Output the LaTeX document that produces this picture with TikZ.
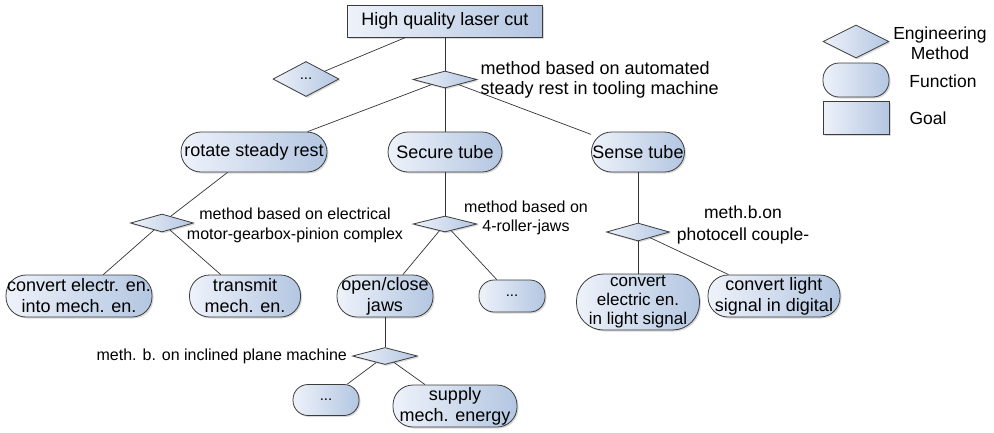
\documentclass[tikz,border=0pt]{standalone}
\usepackage{fontspec}
\setmainfont{Liberation Sans}
\usetikzlibrary{positioning, shapes.geometric, shadows}

\definecolor{shapeedge}{HTML}{3C3C3C}
\definecolor{fillleft}{HTML}{EEF2FA}
\definecolor{fillright}{HTML}{B3C6E1}
\definecolor{linkcol}{HTML}{333333}

\begin{document}
\begin{tikzpicture}[x=1pt, y=-1pt,
    shaded/.style={draw=shapeedge, line width=0.8pt, left color=fillleft, right color=fillright,
        drop shadow={shadow xshift=1.5pt, shadow yshift=-1.5pt, opacity=0.3}},
    goal/.style={shaded, rectangle, minimum width=195pt, minimum height=32pt, inner sep=0pt, font=\fontsize{18}{21}\selectfont},
    func/.style={shaded, rectangle, rounded corners=20pt, minimum height=42pt, inner sep=0pt, align=center, font=\fontsize{18}{21}\selectfont},
    smallfunc/.style={func, minimum width=66pt, minimum height=32pt, rounded corners=15pt, font=\fontsize{15}{18}\selectfont},
    method/.style={shaded, diamond, minimum width=64pt, minimum height=17pt, inner sep=0pt},
    methtext/.style={align=center, inner sep=0pt, font=\fontsize{16}{19.5}\selectfont},
    legtext/.style={align=center, inner sep=0pt, font=\fontsize{17.5}{20}\selectfont},
    link/.style={draw=linkcol, line width=0.7pt}
]
    \useasboundingbox (0,0) rectangle (994,432);

    % goal and first method
    \node[goal] (goal) at (445,21) {High quality laser cut};
    \node[method, minimum width=66pt, minimum height=35pt, font=\fontsize{15}{18}\selectfont] (mdots) at (306,79) {...};
    \node[method] (mauto) at (445,79.5) {};
    \node[methtext, align=left, font=\fontsize{18}{20}\selectfont, right=3pt of mauto] (tauto) {method based on automated\\steady rest in tooling machine};

    % functions of the steady rest
    \node[func, minimum width=146pt, minimum height=40pt] (rotate) at (254,152) {rotate steady rest};
    \node[func, minimum width=114pt, minimum height=40pt] (secure) at (445,152) {Secure tube};
    \node[func, minimum width=93pt, minimum height=40pt] (sense) at (638,152) {Sense tube};

    % methods below the functions
    \node[method, minimum width=63pt, minimum height=18pt] (mmotor) at (162,223) {};
    \node[methtext] (tmotor) at (295,225.5) {method based on electrical\\motor-gearbox-pinion complex};
    \node[method, minimum height=16pt] (mjaws) at (445,224) {};
    \node[methtext] (tjaws) at (526,218) {method based on\\4-roller-jaws};
    \node[method, minimum width=63pt, minimum height=18pt] (mcell) at (638,232) {};
    \node[methtext, font=\fontsize{17.5}{22}\selectfont] (tcell) at (743,225) {meth.b.on\\photocell couple-};

    % sub functions
    \node[func, minimum width=146pt] (convel) at (79,296) {convert electr. en.\\into mech. en.};
    \node[func, minimum width=111pt] (transmit) at (245,296) {transmit\\mech. en.};
    \node[func, minimum width=96pt] (jaws) at (385,296) {open/close\\jaws};
    \node[smallfunc] (jdots) at (512,296) {...};
    \node[func, minimum width=123pt, minimum height=56pt, rounded corners=27pt, font=\fontsize{17}{19}\selectfont] (convlight) at (638,302) {convert\\electric en.\\in light signal};
    \node[func, minimum width=132pt] (convdig) at (774,296) {convert light\\signal in digital};

    % jaws method
    \node[method, minimum width=65pt] (mplane) at (385,356) {};
    \node[methtext, left=5pt of mplane] (tplane) {meth. b. on inclined plane machine};
    \node[smallfunc, minimum height=31pt] (pdots) at (326,400) {...};
    \node[func, minimum width=124pt] (supply) at (455,406) {supply\\mech. energy};

    % legend
    \node[method, minimum width=66pt, minimum height=33pt] (legm) at (856,41.5) {};
    \node[func, minimum width=66pt, minimum height=34pt, rounded corners=16pt] (legf) at (856,80) {};
    \node[goal, minimum width=66pt, minimum height=33pt] (legg) at (856,117.5) {};
    \node[legtext] (legmt) at (940,43) {Engineering\\Method};
    \node[legtext] (legft) at (943,81) {Function};
    \node[legtext] (leggt) at (928,118) {Goal};

    % connectors
    \foreach \a/\b in {goal/mdots, goal/mauto, mauto/rotate, mauto/secure, mauto/sense,
        rotate/mmotor, mmotor/convel, mmotor/transmit, secure/mjaws, mjaws/jaws, mjaws/jdots,
        sense/mcell, mcell/convlight, mcell/convdig, jaws/mplane, mplane/pdots, mplane/supply}
        \draw[link] (\a) -- (\b);

\end{tikzpicture}
\end{document}
